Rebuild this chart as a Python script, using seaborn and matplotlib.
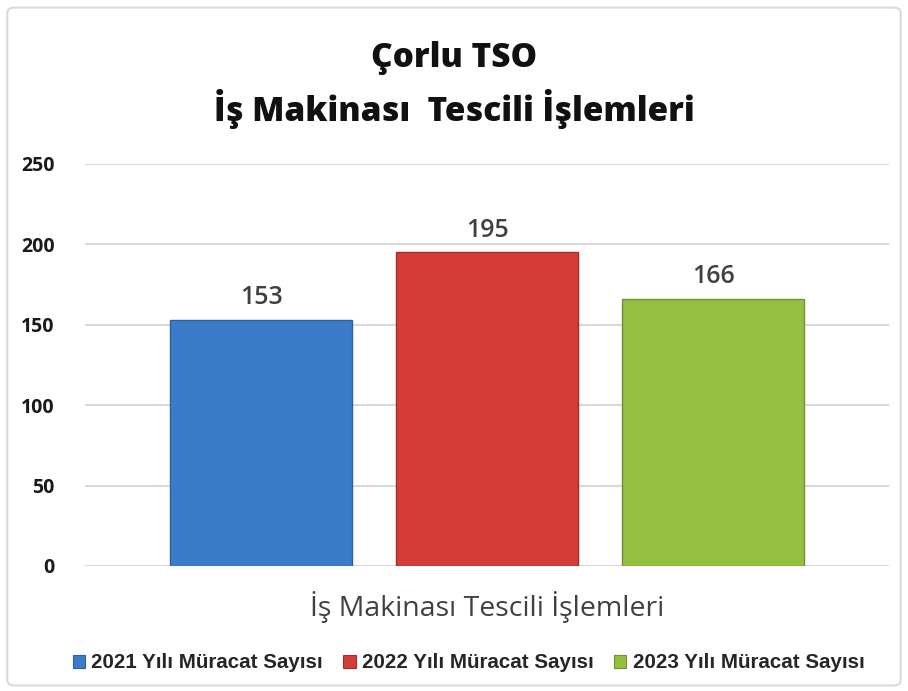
import matplotlib
matplotlib.use("Agg")
import matplotlib.pyplot as plt
import seaborn as sns
import pandas as pd
from matplotlib.patches import FancyBboxPatch, Patch

# ---- data ----
series = ["2021 Yılı Müracat Sayısı", "2022 Yılı Müracat Sayısı", "2023 Yılı Müracat Sayısı"]
values = [153, 195, 166]
colors = ["#3b7cc9", "#d63c38", "#93c13f"]
edge_colors = ["#2c5f9e", "#a82b28", "#6f9330"]
title_lines = ["Çorlu TSO", "İş Makinası  Tescili İşlemleri"]
x_label = "İş Makinası Tescili İşlemleri"
y_ticks = [0, 50, 100, 150, 200, 250]

sns.set_theme(style="white")
plt.rcParams["font.family"] = ["Open Sans", "DejaVu Sans"]

df = pd.DataFrame({"Seri": series, "Sayı": values})

fig = plt.figure(figsize=(9.08, 6.91), dpi=100)
fig.patch.set_facecolor("white")

# outer frame
frame = FancyBboxPatch((0.008, 0.008), 0.984, 0.981, boxstyle="round,pad=0,rounding_size=0.008",
                       transform=fig.transFigure, facecolor="none", edgecolor="#d9d9d9", lw=1.5)
fig.patches.append(frame)

ax = fig.add_axes([0.0936, 0.181, 0.886, 0.5817])
sns.barplot(data=df, x="Seri", y="Sayı", hue="Seri", palette=colors, legend=False,
            width=0.805, ax=ax, saturation=1)
for p, ec in zip(ax.patches, edge_colors):
    p.set_edgecolor(ec)
    p.set_linewidth(1.0)
    p.set_zorder(3)

ax.set_ylim(0, 250)
ax.set_xlim(-0.78, 2.78)
ax.set_yticks(y_ticks)
ax.set_yticklabels([str(t) for t in y_ticks], fontsize=14, fontweight="bold", color="#1a1a1a")
ax.tick_params(axis="y", length=0, pad=22)
ax.set_xticks([])
ax.grid(axis="y", color="#d9d9d9", lw=1.5, zorder=0)
ax.set_axisbelow(True)
for s in ax.spines.values():
    s.set_visible(False)
ax.set_ylabel("")
ax.set_xlabel(x_label, fontsize=20.5, color="#404040", labelpad=18,
              family=["Open Sans", "DejaVu Sans"])

for cont in ax.containers:
    ax.bar_label(cont, fmt="%d", padding=7, fontsize=18, color="#404040", fontweight="semibold",
                 family=["Open Sans", "DejaVu Sans"])

fig.text(0.5, 1 - 58 / 691, title_lines[0], ha="center", va="center", fontsize=24,
         fontweight="heavy", color="#111111")
fig.text(0.5, 1 - 109 / 691, title_lines[1], ha="center", va="center", fontsize=24,
         fontweight="heavy", color="#111111")

handles = [Patch(facecolor=c, edgecolor=ec, lw=0.8) for c, ec in zip(colors, edge_colors)]
fig.legend(handles, series, loc="center", bbox_to_anchor=(0.516, 1 - 663 / 691), ncol=3,
           frameon=False, prop={"family": ["Liberation Sans", "DejaVu Sans"],
                                "weight": "bold", "size": 14.8},
           handlelength=0.6, handleheight=0.6, handletextpad=0.3, columnspacing=1.0)

fig.savefig("out.png", dpi=100)
